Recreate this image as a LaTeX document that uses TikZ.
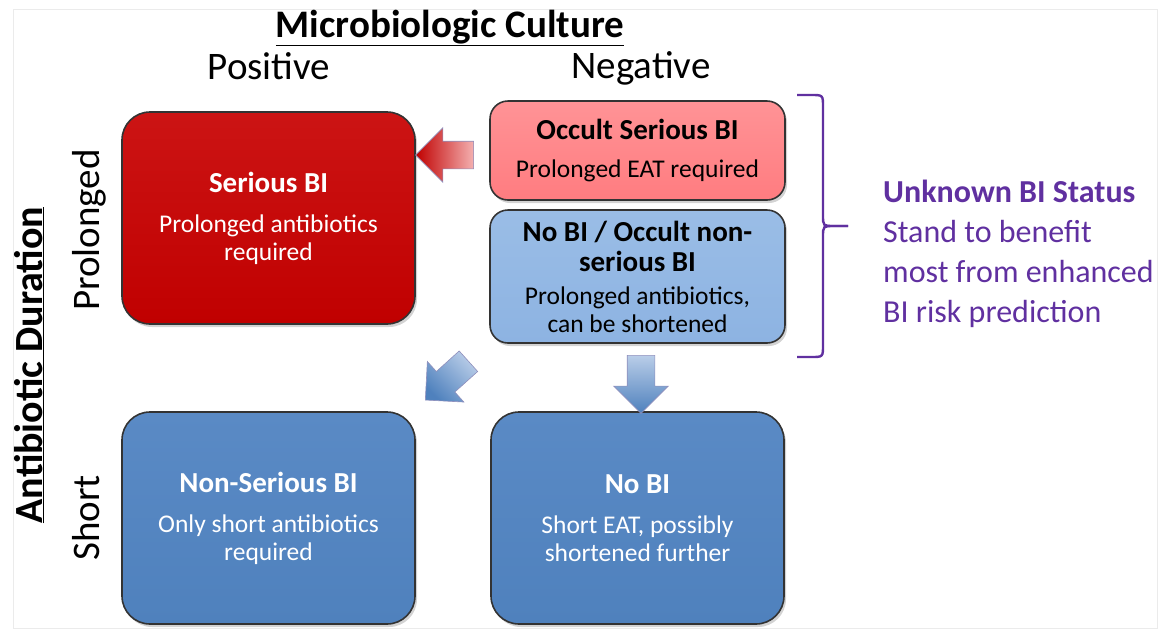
\documentclass[tikz,border=0pt]{standalone}
\usepackage{fontspec}
\setmainfont{Carlito}
\usetikzlibrary{shapes.arrows,shadows}

\definecolor{redfill}{HTML}{C00000}
\definecolor{redtop}{HTML}{CC1414}
\definecolor{pinkfill}{HTML}{FF7C80}
\definecolor{pinktop}{HTML}{FF9396}
\definecolor{bluefill}{HTML}{4F81BD}
\definecolor{bluetop}{HTML}{5A8AC5}
\definecolor{lightfill}{HTML}{8DB3E2}
\definecolor{lighttop}{HTML}{9ABDE6}
\definecolor{arrowblue}{HTML}{B9CDE8}
\definecolor{arrowpink}{HTML}{F4B0B0}
\definecolor{statuspurple}{HTML}{6030A0}

\newcommand{\hdr}{\fontsize{29}{32}\selectfont\bfseries}
\newcommand{\bdy}{\fontsize{25.5}{28}\selectfont}
\newcommand{\lbl}{\fontsize{39}{42}\selectfont}

\begin{document}
\begin{tikzpicture}[x=1pt,y=-1pt,
	cell/.style={draw=black!80, line width=1.6pt, align=center, inner sep=0pt, font=\bdy,
		drop shadow={opacity=0.35, shadow xshift=2pt, shadow yshift=-3pt}},
	bigcell/.style={cell, minimum width=293pt, minimum height=212pt, rounded corners=28pt},
	smallcell/.style={cell, minimum width=295pt, rounded corners=18pt},
	blockarrow/.style={single arrow, single arrow head extend=13.5pt, minimum width=54pt,
		minimum height=58pt, inner xsep=0pt, inner ysep=13.5pt, draw=blue!25!gray!70, line width=0.6pt}]
	\useasboundingbox (0,0) rectangle (1168,633);
	\draw[black!8] (13,9) rectangle (1157,628);

	% headings
	\node[font=\lbl\bfseries, anchor=base] (culture) at (450,37) {\underline{Microbiologic Culture}};
	\node[font=\lbl, anchor=base] (pos) at (269,79) {Positive};
	\node[font=\lbl, anchor=base] (neg) at (641,78) {Negative};
	\node[font=\fontsize{40}{42}\selectfont\bfseries, anchor=base, rotate=90] (duration) at (42,365) {\underline{Antibiotic Duration}};
	\node[font=\lbl, anchor=base, rotate=90] (prolonged) at (99,230) {Prolonged};
	\node[font=\lbl, anchor=base, rotate=90] (short) at (99,518) {Short};

	% boxes
	\node[bigcell, top color=redtop, bottom color=redfill, text=white] (serious) at (268.5,218)
		{{\hdr Serious BI}\\[12pt]Prolonged antibiotics\\required};
	\node[smallcell, minimum height=99pt, top color=pinktop, bottom color=pinkfill] (occult) at (637.5,150.5)
		{{\hdr Occult Serious BI}\\[10pt]Prolonged EAT required};
	\node[smallcell, minimum height=133pt, top color=lighttop, bottom color=lightfill] (nonserious) at (637.5,276.5)
		{{\hdr No BI / Occult non-}\\[2pt]{\hdr serious BI}\\[5pt]Prolonged antibiotics,\\can be shortened};
	\node[bigcell, top color=bluetop, bottom color=bluefill, text=white] (minor) at (268.5,518)
		{{\hdr Non-Serious BI}\\[12pt]Only short antibiotics\\required};
	\node[bigcell, top color=bluetop, bottom color=bluefill, text=white] (nobi) at (637.5,518)
		{{\hdr No BI}\\[12pt]Short EAT, possibly\\shortened further};

	% block arrows
	\node[blockarrow, rotate=180, top color=arrowpink, bottom color=redfill, shading angle=-90] (toserious) at (451.5,155) {};
	\node[blockarrow, rotate=222, top color=arrowblue, bottom color=bluefill, shading angle=-45] (tominor) at (452,376) {};
	\node[blockarrow, rotate=-90, top color=arrowblue, bottom color=bluefill, shading angle=0] (tonobi) at (641,377.5) {};

	% brace over the negative, prolonged cells
	\coordinate (bracetop) at (797,95);
	\coordinate (bracebot) at (797,357);
	\coordinate (bracetip) at (848,226);
	\draw[statuspurple, line width=2.4pt] (bracetop) -- (811,95) .. controls (823,95) .. (823,107) -- (823,215)
		.. controls (823,226) .. (834,226) -- (bracetip);
	\draw[statuspurple, line width=2.4pt] (bracebot) -- (811,357) .. controls (823,357) .. (823,345) -- (823,237)
		.. controls (823,226) .. (834,226) -- (bracetip);
	\node[font=\fontsize{32}{40}\selectfont, text=statuspurple, align=left, anchor=base west, inner sep=0pt] (status) at (883,322)
		{{\bfseries Unknown BI Status}\\Stand to benefit\\most from enhanced\\BI risk prediction};
\end{tikzpicture}
\end{document}
